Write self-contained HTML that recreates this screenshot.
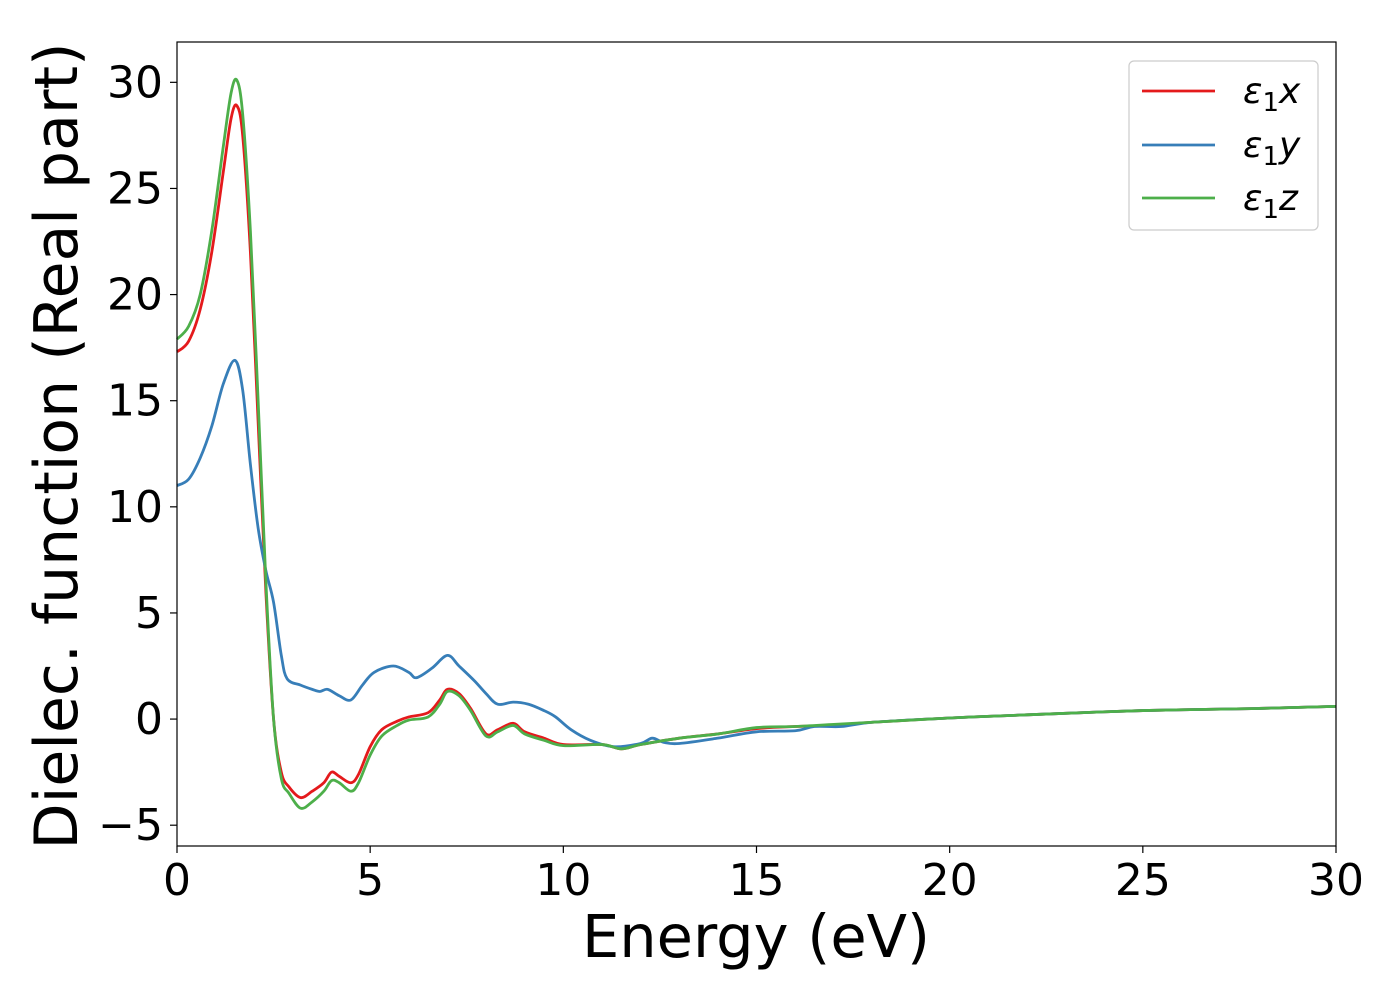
<!DOCTYPE html>
<html><head><meta charset="utf-8"><style>
html,body{margin:0;padding:0;background:#fff;}
svg text{font-family:"DejaVu Sans","Liberation Sans",sans-serif;fill:#000;}
</style></head><body>
<svg id="chart" width="1400" height="1000" viewBox="0 0 1400 1000" xmlns="http://www.w3.org/2000/svg">
<rect width="1400" height="1000" fill="#fff"/>
<g id="series"></g>
<rect x="177" y="42" width="1159" height="804" fill="none" stroke="#000" stroke-width="1.2"/>
<g id="ticks"></g>
<text x="756" y="957" font-size="59" text-anchor="middle">Energy (eV)</text>
<text transform="translate(77,446) rotate(-90)" font-size="60" text-anchor="middle">Dielec. function (Real part)</text>
<g>
<rect x="1129" y="61" width="189" height="169" rx="5" fill="#fff" stroke="#ccc" stroke-width="1.2"/>
<line x1="1142" y1="91" x2="1215" y2="91" stroke="#e41a1c" stroke-width="2.8"/>
<text x="1243" y="103" font-size="36" font-style="italic">ε<tspan font-style="normal" font-size="26" dy="8">1</tspan><tspan dy="-8">x</tspan></text>
<line x1="1142" y1="145" x2="1215" y2="145" stroke="#377eb8" stroke-width="2.8"/>
<text x="1243" y="157" font-size="36" font-style="italic">ε<tspan font-style="normal" font-size="26" dy="8">1</tspan><tspan dy="-8">y</tspan></text>
<line x1="1142" y1="198" x2="1215" y2="198" stroke="#4daf4a" stroke-width="2.8"/>
<text x="1243" y="210" font-size="36" font-style="italic">ε<tspan font-style="normal" font-size="26" dy="8">1</tspan><tspan dy="-8">z</tspan></text>
</g>
</svg>
<script>
const xTicks=[0,5,10,15,20,25,30];
const yTicks=[-5,0,5,10,15,20,25,30];
const xE=[0,0.3,0.6,0.9,1.2,1.4,1.55,1.7,1.9,2.1,2.3,2.5,2.7,2.9,3.2,3.5,3.8,4.0,4.2,4.5,4.7,5.0,5.3,5.7,6.0,6.5,6.8,7.0,7.3,7.6,8.0,8.3,8.7,9.0,9.5,10,11,11.5,12,13,14,15,16,17,18,20,22,25,28,30];
const xV=[17.3,17.8,19.3,22,25.8,28.3,28.9,27.5,22,14,6,0,-2.5,-3.2,-3.7,-3.4,-3.0,-2.5,-2.7,-3.0,-2.6,-1.3,-0.5,-0.1,0.1,0.3,0.9,1.4,1.2,0.5,-0.7,-0.5,-0.2,-0.6,-0.9,-1.2,-1.2,-1.4,-1.2,-0.9,-0.7,-0.45,-0.35,-0.3,-0.15,0.05,0.2,0.4,0.5,0.6];
const zE=xE;
const zV=[17.9,18.5,20,23,27,29.5,30.1,28.5,23,15,6.5,0,-2.8,-3.5,-4.2,-3.9,-3.4,-2.9,-3.0,-3.4,-3.0,-1.7,-0.8,-0.3,-0.05,0.1,0.7,1.3,1.1,0.4,-0.8,-0.6,-0.3,-0.7,-1.0,-1.25,-1.2,-1.4,-1.2,-0.9,-0.7,-0.4,-0.35,-0.25,-0.15,0.05,0.2,0.4,0.5,0.6];
const yE=[0,0.3,0.6,0.9,1.2,1.5,1.7,1.9,2.1,2.3,2.5,2.7,2.85,3.2,3.5,3.7,3.9,4.2,4.5,4.8,5.1,5.6,6.0,6.2,6.6,7.0,7.3,7.7,8.0,8.3,8.7,9.1,9.5,9.8,10.2,10.7,11.3,12,12.3,12.6,13,14,15,16,16.5,17.2,18,20,22,25,28,30];
const yV=[11.0,11.3,12.3,13.8,15.8,16.9,15.5,12,9,7,5.5,3,1.9,1.6,1.4,1.3,1.4,1.1,0.9,1.6,2.2,2.5,2.2,1.95,2.4,3.0,2.5,1.8,1.2,0.7,0.8,0.7,0.4,0.1,-0.5,-1.0,-1.3,-1.15,-0.9,-1.1,-1.15,-0.9,-0.6,-0.55,-0.35,-0.35,-0.15,0.05,0.2,0.4,0.5,0.6];
const X0=177,X1=1336,Y0=846,Y1=42,xmin=0,xmax=30,ymin=-5.98,ymax=31.9;
function sx(v){return X0+(v-xmin)/(xmax-xmin)*(X1-X0);}
function sy(v){return Y0-(v-ymin)/(ymax-ymin)*(Y0-Y1);}
const NS='http://www.w3.org/2000/svg';
function pathFor(E,V){
  const p=E.map((e,i)=>[sx(e),sy(V[i])]);
  let d='M'+p[0][0]+','+p[0][1];
  for(let i=0;i<p.length-1;i++){
    const a=p[i-1]||p[i],b=p[i],c=p[i+1],n=p[i+2]||c;
    const c1=[b[0]+(c[0]-a[0])/6,b[1]+(c[1]-a[1])/6];
    const c2=[c[0]-(n[0]-b[0])/6,c[1]-(n[1]-b[1])/6];
    d+=' C'+c1+' '+c2+' '+c;
  }
  return d;
}
const g=document.getElementById('series');
[[xE,xV,'#e41a1c','series-eps1-x'],[yE,yV,'#377eb8','series-eps1-y'],[zE,zV,'#4daf4a','series-eps1-z']].forEach(s=>{
  const el=document.createElementNS(NS,'path');
  el.setAttribute('d',pathFor(s[0],s[1]));
  el.setAttribute('fill','none');el.setAttribute('stroke',s[2]);el.setAttribute('stroke-width','2.8');
  
  
  g.appendChild(el);
});
const t=document.getElementById('ticks');
xTicks.forEach(v=>{
  const l=document.createElementNS(NS,'line');
  l.setAttribute('x1',sx(v));l.setAttribute('x2',sx(v));l.setAttribute('y1',846);l.setAttribute('y2',853);l.setAttribute('stroke','#000');l.setAttribute('stroke-width','1.2');
  
  
  t.appendChild(l);
  const tx=document.createElementNS(NS,'text');
  tx.setAttribute('x',sx(v));tx.setAttribute('y',895);tx.setAttribute('font-size','44');tx.setAttribute('text-anchor','middle');
  tx.textContent=String(v);
  
  
  t.appendChild(tx);
});
yTicks.forEach(v=>{
  const l=document.createElementNS(NS,'line');
  l.setAttribute('x1',170);l.setAttribute('x2',177);l.setAttribute('y1',sy(v));l.setAttribute('y2',sy(v));l.setAttribute('stroke','#000');l.setAttribute('stroke-width','1.2');
  
  
  t.appendChild(l);
  const tx=document.createElementNS(NS,'text');
  tx.setAttribute('x',163);tx.setAttribute('y',sy(v)+15);tx.setAttribute('font-size','44');tx.setAttribute('text-anchor','end');
  tx.textContent=v<0?'\u2212'+Math.abs(v):String(v);
  
  
  t.appendChild(tx);
});
</script>
</body></html>
